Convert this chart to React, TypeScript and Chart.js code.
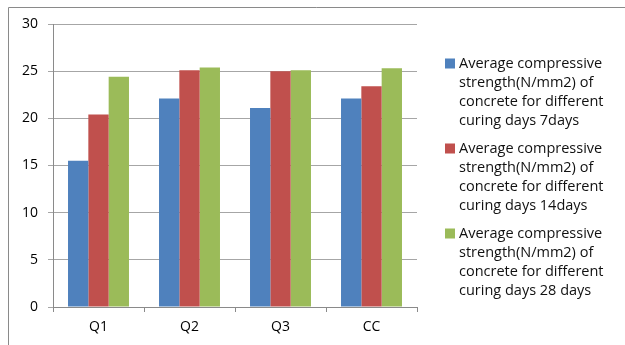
import React, { useEffect, useRef } from "react";
import { Chart, registerables } from "chart.js";

Chart.register(...registerables);

const categories = ["Q1", "Q2", "Q3", "CC"];
const days7 = [15.5, 22.1, 21.1, 22.1];
const days14 = [20.4, 25.1, 25.0, 23.4];
const days28 = [24.4, 25.4, 25.1, 25.3];
const seriesLabels = [
  ["Average compressive", "strength(N/mm2) of", "concrete for different", "curing days 7days"],
  ["Average compressive", "strength(N/mm2) of", "concrete for different", "curing days 14days"],
  ["Average compressive", "strength(N/mm2) of", "concrete for different", "curing days 28 days"],
];
const colors = ["#4F81BD", "#C0504D", "#9BBB59"];
const FONT = "'Open Sans', sans-serif";

const sideLegend = {
  id: "sideLegend",
  afterDraw(chart: any) {
    const ctx = chart.ctx;
    ctx.save();
    ctx.strokeStyle = "#8a8a8a";
    ctx.lineWidth = 1;
    ctx.beginPath();
    ctx.moveTo(8.5, 345);
    ctx.lineTo(8.5, 7.5);
    ctx.lineTo(625, 7.5);
    ctx.stroke();
    ctx.font = "14.5px " + FONT;
    ctx.textBaseline = "middle";
    chart.data.datasets.forEach((ds: any, i: number) => {
      const y0 = 63.5 + i * 85;
      ctx.fillStyle = ds.backgroundColor;
      ctx.fillRect(445, y0 - 5, 10, 10);
      ctx.fillStyle = "#111";
      (ds.legendLines as string[]).forEach((line, j) => {
        ctx.fillText(line, 459, y0 + j * 19);
      });
    });
    ctx.restore();
  },
};

export default function App() {
  const ref = useRef<HTMLCanvasElement>(null);
  useEffect(() => {
    const datasets = [days7, days14, days28].map((d, i) => ({
      label: seriesLabels[i].join(" "),
      legendLines: seriesLabels[i],
      data: d,
      backgroundColor: colors[i],
      borderWidth: 0,
      categoryPercentage: 0.67,
      barPercentage: 1.0,
    }));
    const chart = new Chart(ref.current!, {
      type: "bar",
      data: { labels: categories, datasets: datasets as any },
      options: {
        animation: false,
        responsive: false,
        layout: { padding: { left: 10, top: 24, right: 208, bottom: 0 } },
        plugins: { legend: { display: false }, tooltip: { enabled: false } },
        scales: {
          x: {
            grid: { drawOnChartArea: false, drawTicks: true, tickLength: 5, color: "#8a8a8a" },
            border: { color: "#8a8a8a" },
            ticks: { font: { family: FONT, size: 14 }, color: "#000", padding: 7 },
            afterFit: (s: any) => { s.height = 38; },
          },
          y: {
            min: 0,
            max: 30,
            ticks: { stepSize: 5, font: { family: FONT, size: 14 }, color: "#000", padding: 10 },
            grid: { color: "#a6a6a6", tickLength: 5 },
            border: { color: "#8a8a8a" },
            afterFit: (s: any) => { s.width = 43; },
          },
        },
      },
      plugins: [sideLegend],
    });
    return () => chart.destroy();
  }, []);
  return (
    <div style={{ position: "fixed", left: 0, top: 0, width: 625, height: 345, background: "#fff" }}>
      <canvas ref={ref} width={625} height={345} style={{ display: "block" }} />
    </div>
  );
}
